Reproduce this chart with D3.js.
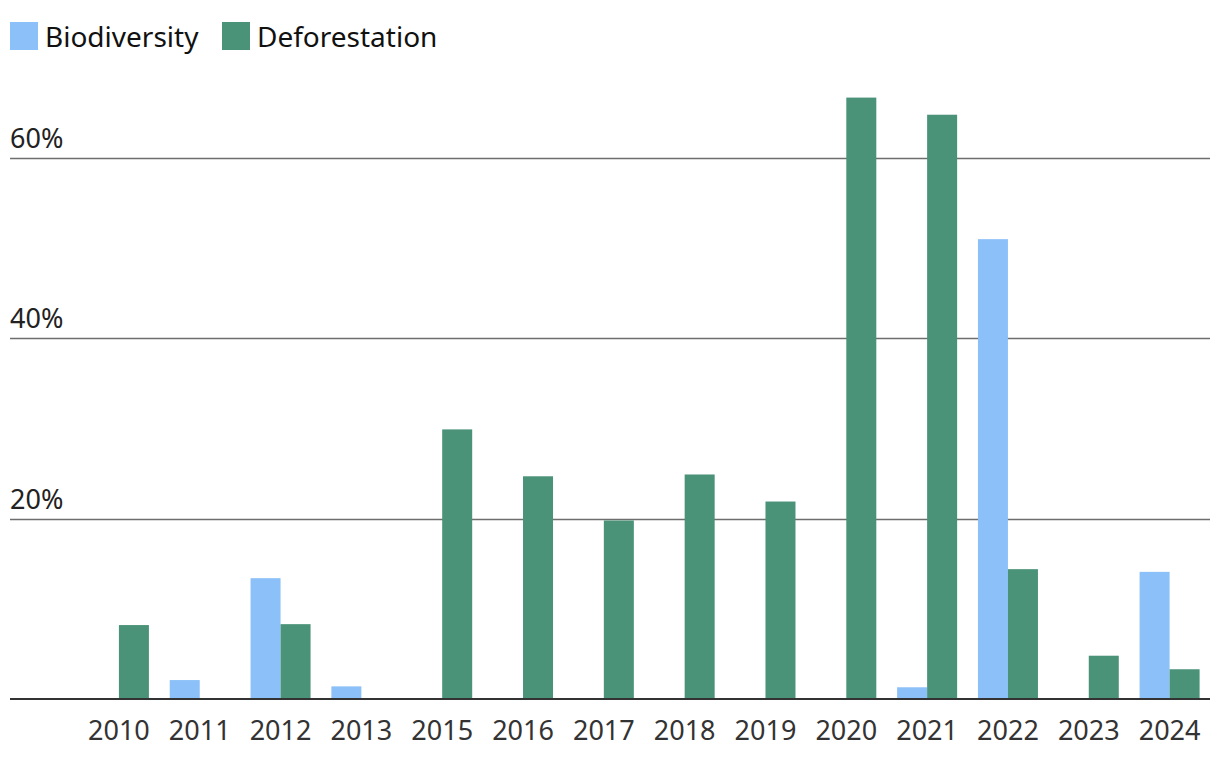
<!DOCTYPE html>
<html><head><meta charset="utf-8">
<script src="https://cdn.jsdelivr.net/npm/d3@7"></script>
<style>body{margin:0;background:#fff}svg{display:block}text{font-family:"Noto Sans",sans-serif}</style>
</head><body><svg id="c" width="1220" height="768"></svg>
<script>
const categories = ["2010","2011","2012","2013","2015","2016","2017","2018","2019","2020","2021","2022","2023","2024"];
const biodiversity = [null, 2.1, 13.4, 1.4, null, null, null, null, null, null, 1.3, 51.0, null, 14.1];
const deforestation = [8.2, null, 8.3, null, 29.9, 24.7, 19.8, 24.9, 21.9, 66.7, 64.8, 14.4, 4.8, 3.3];
const yTicks = [20, 40, 60];
const seriesNames = ["Biodiversity", "Deforestation"];
const colors = ["#8cc0f8", "#4a9278"];

const svg = d3.select("#c");
const x = d3.scaleBand().domain(categories).range([78.5, 1210]);
const y = d3.scaleLinear().domain([0, 60]).range([699, 158]);
const bw = x.bandwidth();
const x1 = d3.scaleBand().domain(seriesNames).range([bw/2 - 30, bw/2 + 30]);

svg.append("g").selectAll("line").data(yTicks).join("line")
  .attr("x1", 10).attr("x2", 1210)
  .attr("y1", d => Math.round(y(d)) + 0.5).attr("y2", d => Math.round(y(d)) + 0.5)
  .attr("stroke", "#6e6e6e").attr("stroke-width", 1.3);
svg.append("g").selectAll("text").data(yTicks).join("text")
  .attr("x", 10).attr("y", d => y(d) - 10)
  .attr("font-size", 27).attr("fill", "#222")
  .text(d => d + "%");

const series = [biodiversity, deforestation];
series.forEach((vals, si) => {
  svg.append("g").selectAll("rect")
    .data(categories.map((c, i) => ({c, v: vals[i]})).filter(d => d.v != null))
    .join("rect")
    .attr("x", d => x(d.c) + x1(seriesNames[si]))
    .attr("width", x1.bandwidth())
    .attr("y", d => y(d.v))
    .attr("height", d => y(0) - y(d.v))
    .attr("fill", colors[si]);
});

svg.append("line").attr("x1", 10).attr("x2", 1210).attr("y1", y(0)).attr("y2", y(0))
  .attr("stroke", "#333").attr("stroke-width", 2);

const xAxis = d3.axisBottom(x).tickSize(0).tickPadding(22);
const gx = svg.append("g").attr("transform", `translate(0,${y(0)})`).call(xAxis);
gx.select(".domain").remove();
gx.selectAll("text").attr("font-size", 27).attr("fill", "#333").attr("font-family", "\"Noto Sans\",sans-serif");

const leg = svg.append("g");
const legX = [10, 222];
seriesNames.forEach((n, i) => {
  leg.append("rect").attr("x", legX[i]).attr("y", 22).attr("width", 28).attr("height", 28).attr("fill", colors[i]);
  leg.append("text").attr("x", legX[i] + 35).attr("y", 47).attr("font-size", 28).attr("fill", "#111").text(n);
});
</script></body></html>
